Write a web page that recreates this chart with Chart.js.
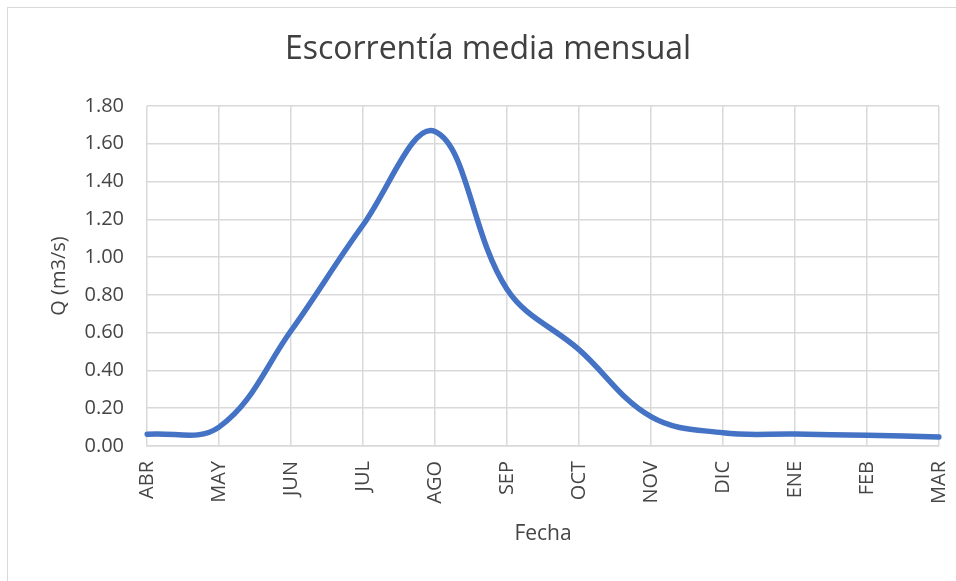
<!DOCTYPE html>
<html>
<head>
<meta charset="utf-8">
<script src="https://cdn.jsdelivr.net/npm/chart.js@4/dist/chart.umd.min.js"></script>
<style>
  html, body { margin: 0; padding: 0; background: #ffffff; }
  body { width: 956px; height: 581px; overflow: hidden; position: relative; }
  .frame { position: absolute; left: 7px; top: 7px; width: 980px; height: 600px;
           border: 1px solid #d9d9d9; box-sizing: border-box; }
  #wrap { position: absolute; left: 0; top: 0; width: 956px; height: 581px; }
</style>
</head>
<body>
<div class="frame"></div>
<div id="wrap"><canvas id="chart" width="956" height="581"></canvas></div>
<script>
// Mean monthly runoff (hydrological year April–March)
const months = ['ABR', 'MAY', 'JUN', 'JUL', 'AGO', 'SEP', 'OCT', 'NOV', 'DIC', 'ENE', 'FEB', 'MAR'];
const caudal = [0.062, 0.10, 0.61, 1.17, 1.665, 0.83, 0.51, 0.155, 0.07, 0.063, 0.057, 0.048];
const yTicks = [0, 0.2, 0.4, 0.6, 0.8, 1.0, 1.2, 1.4, 1.6, 1.8];

const FONT = '"Open Sans", "Liberation Sans", sans-serif';
const TEXT = '#454545';
const GRID = '#d9d9d9';

new Chart(document.getElementById('chart'), {
  type: 'line',
  data: {
    labels: months,
    datasets: [{
      label: 'Q',
      data: caudal,
      borderColor: '#4472C4',
      borderWidth: 5.5,
      pointRadius: 0,
      tension: 0.38,
      fill: false,
      borderCapStyle: 'round'
    }]
  },
  options: {
    responsive: false,
    animation: false,
    layout: { padding: { left: 20, right: 0, top: 0, bottom: 0 } },
    plugins: {
      legend: { display: false },
      tooltip: { enabled: false },
      title: {
        display: true,
        text: 'Escorrentía media mensual',
        color: '#404040',
        font: { family: FONT, size: 32, weight: 'normal' },
        padding: { top: 31, bottom: 36.6 }
      }
    },
    scales: {
      x: {
        offset: false,
        grid: { color: GRID, lineWidth: 1.5, drawTicks: false },
        border: { color: GRID, width: 1.5 },
        ticks: {
          color: TEXT,
          font: { family: FONT, size: 20 },
          minRotation: 90,
          maxRotation: 90,
          padding: 15,
          autoSkip: false
        },
        title: {
          display: true,
          text: 'Fecha',
          color: TEXT,
          font: { family: FONT, size: 21 },
          padding: { top: 0, bottom: 34 }
        },
        afterFit(scale) {
          scale.height = 135;
          scale.paddingLeft = 0;
          scale.paddingRight = 17;
        }
      },
      y: {
        min: 0,
        max: 1.8,
        afterBuildTicks(scale) { scale.ticks = yTicks.map(v => ({ value: v })); },
        grid: { color: GRID, lineWidth: 1.5, drawTicks: false },
        border: { display: false },
        ticks: {
          color: TEXT,
          font: { family: FONT, size: 20 },
          padding: 23,
          callback: v => Number(v).toFixed(2)
        },
        title: {
          display: true,
          text: 'Q (m3/s)',
          color: TEXT,
          font: { family: FONT, size: 20 },
          padding: { top: 27, bottom: 0 }
        },
        afterFit(scale) {
          scale.width = 127;
          scale.paddingTop = 0;
          scale.paddingBottom = 0;
        }
      }
    }
  }
});
</script>
</body>
</html>
